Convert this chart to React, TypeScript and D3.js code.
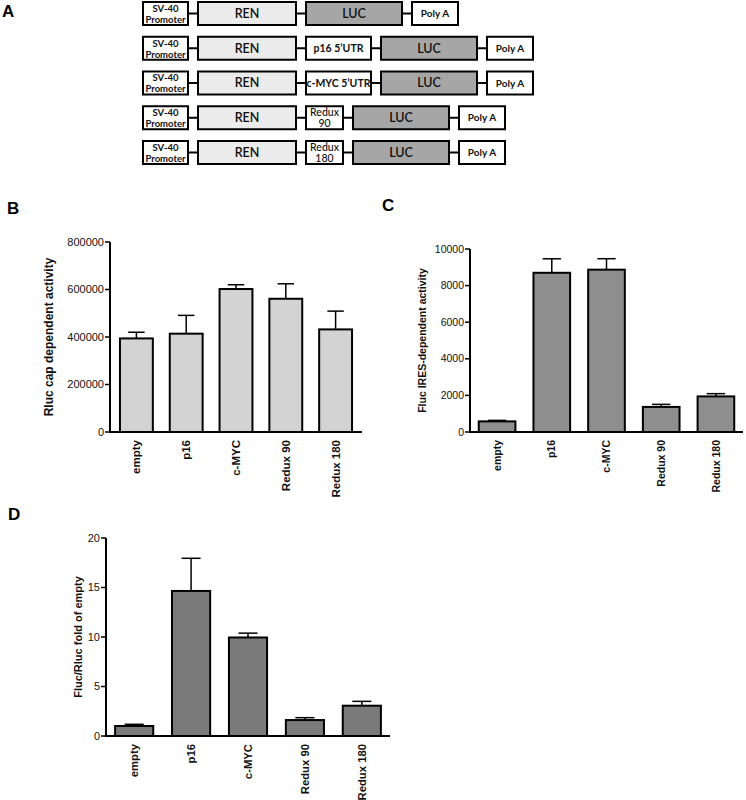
import React from 'react'
import * as d3 from 'd3'

// bar chart data
const categories = ['empty', 'p16', 'c-MYC', 'Redux 90', 'Redux 180']
const rlucMean = [394000, 414000, 602000, 561000, 432000]
const rlucErr = [26000, 77000, 18000, 63000, 77000]
const flucMean = [580, 8700, 8870, 1370, 1945]
const flucErr = [55, 765, 600, 140, 150]
const foldMean = [1.01, 14.65, 9.95, 1.61, 3.06]
const foldErr = [0.17, 3.3, 0.44, 0.24, 0.44]
const rlucTicks = [0, 200000, 400000, 600000, 800000]
const flucTicks = [0, 2000, 4000, 6000, 8000, 10000]
const foldTicks = [0, 5, 10, 15, 20]

// construct diagrams (panel A)
const construct1 = ['SV-40|Promoter', 'REN', 'LUC', 'Poly A']
const construct2 = ['SV-40|Promoter', 'REN', 'p16 5’UTR', 'LUC', 'Poly A']
const construct3 = ['SV-40|Promoter', 'REN', 'c-MYC 5’UTR', 'LUC', 'Poly A']
const construct4 = ['SV-40|Promoter', 'REN', 'Redux|90', 'LUC', 'Poly A']
const construct5 = ['SV-40|Promoter', 'REN', 'Redux|180', 'LUC', 'Poly A']
const constructs = [construct1, construct2, construct3, construct4, construct5]

const ARIAL = '"Liberation Sans", Arial, sans-serif'
const CAL = 'Lato, "Open Sans", sans-serif'

const kindOf = (label: string) => {
  if (label.startsWith('SV-40')) return 'promoter'
  if (label === 'REN') return 'ren'
  if (label === 'LUC') return 'luc'
  if (label === 'Poly A') return 'polya'
  if (label.startsWith('Redux')) return 'redux'
  return 'utr'
}

const boxStyle: Record<string, any> = {
  promoter: { w: 45, fill: '#fff', size: 9.5, weight: 700 },
  ren: { w: 98, fill: '#ebebeb', size: 12.5, weight: 600 },
  luc: { w: 96, fill: '#a6a6a6', size: 12.5, weight: 600 },
  polya: { w: 46, fill: '#fff', size: 10, weight: 700 },
  utr: { w: 65, fill: '#fff', size: 10.5, weight: 700 },
  redux: { w: 37, fill: '#fff', size: 10.5, weight: 500 },
}

const Constructs = () => {
  const y = d3.scalePoint<number>().domain(d3.range(constructs.length)).range([13.5, 152.5])
  const h = 23
  const gap = 10
  return (
    <g>
      {constructs.map((row, i) => {
        const cy = y(i)!
        let x = 143
        const boxes = row.map(label => {
          const st = boxStyle[kindOf(label)]
          const b = { label, x, w: st.w, st }
          x += st.w + gap
          return b
        })
        return (
          <g key={i}>
            {boxes.slice(1).map((b, j) => (
              <line key={'c' + j} x1={boxes[j].x + boxes[j].w} x2={b.x} y1={cy} y2={cy} stroke="#000" strokeWidth={2} />
            ))}
            {boxes.map((b, j) => {
              const lines = b.label.split('|')
              return (
                <g key={j}>
                  <rect x={b.x} y={cy - h / 2} width={b.w} height={h} fill={b.st.fill} stroke="#000" strokeWidth={2} />
                  {lines.map((t: string, k: number) => (
                    <text key={k} x={b.x + b.w / 2}
                      y={lines.length === 1 ? cy : cy + (k === 0 ? -5 : 6)}
                      dy="0.35em" textAnchor="middle" fontFamily={CAL}
                      fontSize={b.st.size} fontWeight={b.st.weight} fill="#111">{t}</text>
                  ))}
                </g>
              )
            })}
          </g>
        )
      })}
    </g>
  )
}

type PanelProps = {
  x0: number; x1: number; yTop: number; yBase: number
  max: number; ticks: number[]; mean: number[]; err: number[]
  fill: string; padInner: number; padOuter: number
  ylabel: string; ylabelX: number; fs: number; labFs: number; ylabFs: number
}

const BarPanel = (p: PanelProps) => {
  const x = d3.scaleBand().domain(categories).range([p.x0, p.x1]).paddingInner(p.padInner).paddingOuter(p.padOuter)
  const y = d3.scaleLinear().domain([0, p.max]).range([p.yBase, p.yTop])
  const bw = x.bandwidth()
  return (
    <g>
      {categories.map((c, i) => {
        const bx = x(c)!
        const cx = bx + bw / 2
        const top = y(p.mean[i])
        const et = y(p.mean[i] + p.err[i])
        return (
          <g key={c}>
            <line x1={cx} x2={cx} y1={top} y2={et} stroke="#000" strokeWidth={1.5} />
            <line x1={cx - bw / 4} x2={cx + bw / 4} y1={et} y2={et} stroke="#000" strokeWidth={1.5} />
            <rect x={bx} y={top} width={bw} height={p.yBase - top} fill={p.fill} stroke="#000" strokeWidth={2} />
            <text transform={`translate(${cx},${p.yBase + 8}) rotate(-90)`} dy="0.35em" textAnchor="end"
              fontFamily={ARIAL} fontWeight={700} fontSize={p.labFs} fill="#111">{c}</text>
          </g>
        )
      })}
      <line x1={p.x0} x2={p.x0} y1={p.yTop} y2={p.yBase} stroke="#000" strokeWidth={2} />
      <line x1={p.x0 - 1} x2={p.x1} y1={p.yBase} y2={p.yBase} stroke="#000" strokeWidth={2} />
      {p.ticks.map(t => (
        <g key={t}>
          <line x1={p.x0 - 5} x2={p.x0} y1={y(t)} y2={y(t)} stroke="#000" strokeWidth={1.5} />
          <text x={p.x0 - 6} y={y(t)} dy="0.35em" textAnchor="end" fontFamily={ARIAL} fontSize={p.fs} fill="#111">{t}</text>
        </g>
      ))}
      <text transform={`translate(${p.ylabelX},${(p.yTop + p.yBase) / 2}) rotate(-90)`} dy="0.35em" textAnchor="middle"
        fontFamily={ARIAL} fontWeight={700} fontSize={p.ylabFs} fill="#111">{p.ylabel}</text>
    </g>
  )
}

const Letter = ({ x, y, t }: { x: number; y: number; t: string }) => (
  <text x={x} y={y} fontFamily={ARIAL} fontWeight={700} fontSize={17} fill="#000">{t}</text>
)

export default function App() {
  return (
    <svg width={746} height={800} style={{ position: 'absolute', left: 0, top: 0, background: '#fff' }}>
      <Letter x={2} y={17} t="A" />
      <Constructs />
      <Letter x={7} y={214} t="B" />
      <BarPanel x0={110} x1={362} yTop={242} yBase={432} max={800000} ticks={rlucTicks}
        mean={rlucMean} err={rlucErr} fill="#d3d3d3" padInner={0.34} padOuter={0.2}
        ylabel="Rluc cap dependent activity" ylabelX={49} fs={11} labFs={11.5} ylabFs={12} />
      <Letter x={382} y={211} t="C" />
      <BarPanel x0={470} x1={743} yTop={249} yBase={432} max={10000} ticks={flucTicks}
        mean={flucMean} err={flucErr} fill="#8e8e8e" padInner={0.33} padOuter={0.16}
        ylabel="Fluc IRES-dependent activity" ylabelX={422} fs={10.5} labFs={10.5} ylabFs={10.5} />
      <Letter x={8} y={520} t="D" />
      <BarPanel x0={106} x1={390} yTop={538} yBase={736} max={20} ticks={foldTicks}
        mean={foldMean} err={foldErr} fill="#7a7a7a" padInner={0.33} padOuter={0.16}
        ylabel="Fluc/Rluc fold of empty" ylabelX={78} fs={11} labFs={11.3} ylabFs={11} />
    </svg>
  )
}
